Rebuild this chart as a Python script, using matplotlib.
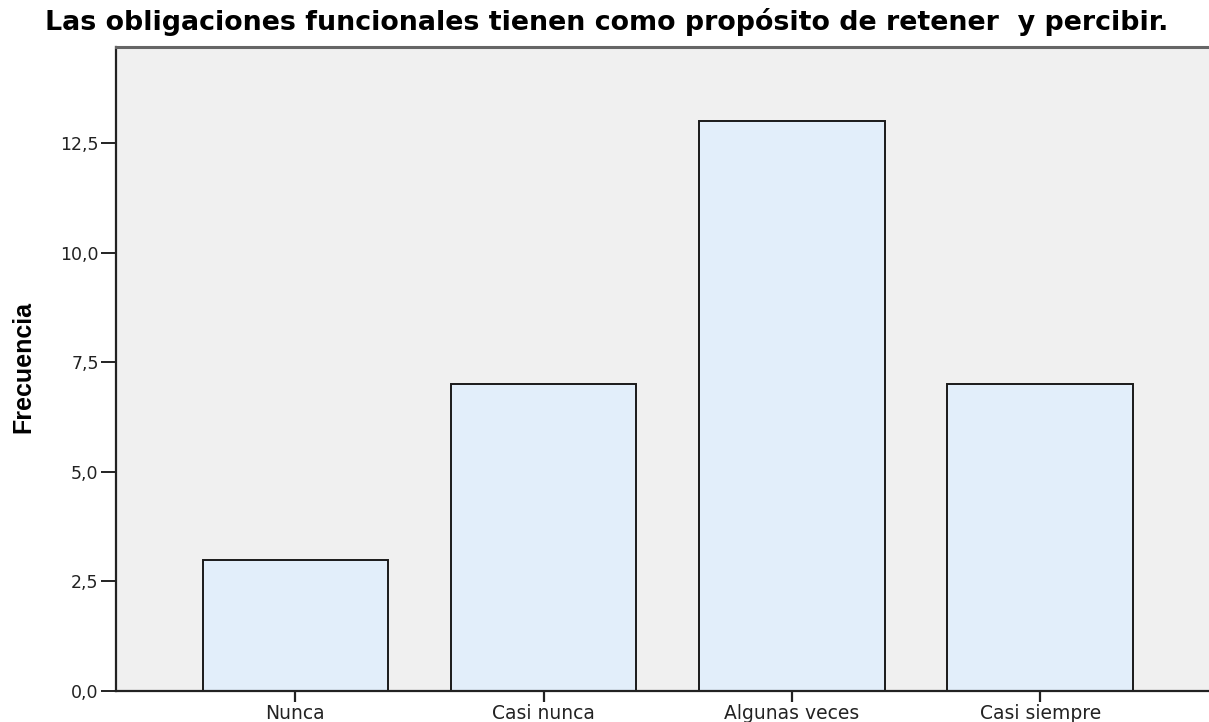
import matplotlib
matplotlib.use("Agg")
import matplotlib.pyplot as plt
from matplotlib.ticker import FuncFormatter

categories = ["Nunca", "Casi nunca", "Algunas veces", "Casi siempre"]
frequencies = [3, 7, 13, 7]
y_ticks = [0.0, 2.5, 5.0, 7.5, 10.0, 12.5]
title = "Las obligaciones funcionales tienen como propósito de retener  y percibir."

plt.rcParams["font.family"] = ["DejaVu Sans"]

W, H = 1209, 722
fig = plt.figure(figsize=(W / 100, H / 100), dpi=100)
ax = fig.add_axes([116 / W, 1 - 691 / H, (1219.5 - 116) / W, (691 - 47) / H])
ax.set_facecolor("#F0F0F0")

x = list(range(len(categories)))
ax.bar(x, frequencies, width=0.747, color="#E2EEFA", edgecolor="#1a1a1a", linewidth=1.4, zorder=2)

ax.set_xlim(-0.722, 3.722)
ax.set_ylim(0, 14.7)
ax.set_xticks(x)
ax.set_xticklabels(categories, fontsize=13.5, color="#111111")
ax.set_yticks(y_ticks)
ax.yaxis.set_major_formatter(FuncFormatter(lambda v, _: f"{v:.1f}".replace(".", ",")))
ax.tick_params(axis="y", labelsize=12.5, length=11, width=1.4, colors="#222222", pad=1.5)
ax.tick_params(axis="x", length=8, width=1.6, colors="#222222", pad=1.5)

for side in ("left", "bottom"):
    ax.spines[side].set_linewidth(1.6)
    ax.spines[side].set_color("#222222")
ax.spines["top"].set_color("#666666")
ax.spines["top"].set_linewidth(2.2)
ax.spines["right"].set_visible(False)

fig.text(23 / W, 1 - 367 / H, "Frecuencia", rotation=90, ha="center", va="center",
         fontsize=18, fontweight="bold", family=["Liberation Sans Narrow", "Liberation Sans"])
fig.text(45 / W, 1 - 22 / H, title, ha="left", va="center", fontsize=19.4, fontweight="bold")

fig.savefig("out.png", dpi=100)
